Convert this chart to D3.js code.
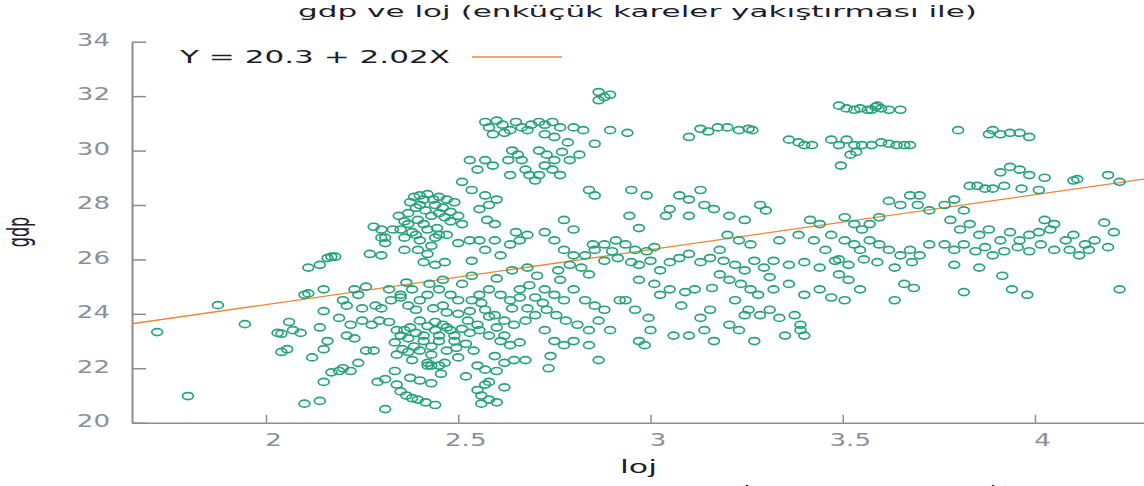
<!DOCTYPE html>
<html>
<head>
<meta charset="utf-8">
<script src="https://cdn.jsdelivr.net/npm/d3@7"></script>
<style>
  html, body { margin: 0; padding: 0; background: #fff; }
  svg { display: block; font-family: "DejaVu Sans", Verdana, sans-serif; }
</style>
</head>
<body>
<svg id="chart"></svg>
<script>
const titleText = "gdp ve loj (enküçük kareler yakıştırması ile)";
const xLabel = "loj";
const yLabel = "gdp";
const xTicks = [2, 2.5, 3, 3.5, 4];
const yTicks = [20, 22, 24, 26, 28, 30, 32, 34];
const fitIntercept = 20.3;
const fitSlope = 2.02;

// [loj, gdp]
const points = [
  [1.717,23.33],[1.797,20.98],[1.875,24.32],[1.945,23.62],[2.03,23.3],[2.04,23.27],[2.04,22.6],[2.055,22.7],
  [2.06,23.7],[2.07,23.4],[2.10,20.7],[2.14,20.8],[2.10,24.7],[2.11,24.75],[2.11,25.7],[2.14,25.8],
  [2.16,26.05],[2.17,26.1],[2.18,26.1],[2.15,24.9],[2.15,24.1],[2.14,23.5],[2.16,23.0],[2.15,22.7],
  [2.17,21.85],[2.15,21.5],[2.19,21.9],[2.22,21.9],[2.19,23.85],[2.2,24.5],[2.23,24.9],[2.24,24.7],
  [2.22,23.6],[2.23,23.1],[2.31,20.5],[2.27,26.2],[2.25,23.75],[2.26,22.65],[2.28,22.65],[2.285,24.3],
  [2.30,24.2],[2.32,24.9],[2.35,24.6],[2.29,21.5],[2.31,21.6],[2.335,21.9],[2.28,27.2],[2.30,26.8],
  [2.31,26.6],[2.09,23.3],[2.12,22.4],[2.2,22.0],[2.21,23.2],[2.24,22.2],[2.26,25.0],[2.25,24.2],[2.21,24.3],
  // 2.3 - 2.4
  [2.30,26.15],[2.30,27.1],[2.31,26.8],[2.33,27.1],[2.345,27.6],[2.36,27.4],[2.35,27.1],[2.37,27.7],
  [2.375,28.1],[2.385,28.3],[2.36,26.35],[2.32,23.7],[2.34,23.4],[2.35,23.2],[2.36,23.4],[2.375,23.5],
  [2.335,22.95],[2.355,22.7],[2.37,22.6],[2.385,22.8],[2.34,22.5],[2.295,23.75],[2.275,23.6],[2.325,24.5],
  [2.35,24.7],[2.38,24.9],[2.365,25.15],[2.37,24.3],[2.39,24.15],[2.34,21.4],[2.35,21.15],[2.365,21.0],
  [2.38,20.9],[2.395,20.85],[2.415,20.75],[2.44,20.65],[2.375,21.65],[2.42,22.1],[2.43,22.1],[2.45,22.1],
  [2.465,22.2],
  // 2.4 - 2.53
  [2.40,28.35],[2.42,28.4],[2.435,28.2],[2.45,28.3],[2.47,28.2],[2.49,28.1],[2.40,28.0],[2.415,27.8],
  [2.43,27.6],[2.45,27.7],[2.465,27.55],[2.48,27.75],[2.50,27.6],[2.395,27.45],[2.41,27.3],[2.445,27.15],
  [2.38,27.0],[2.40,26.7],[2.43,26.5],[2.45,26.9],[2.395,26.35],[2.42,26.2],[2.51,27.3],[2.53,26.7],
  [2.40,23.75],[2.42,23.55],[2.44,23.4],[2.46,23.6],[2.48,23.4],[2.41,23.2],[2.45,23.0],[2.49,23.2],
  [2.51,23.45],[2.525,23.75],[2.47,24.05],[2.435,24.2],[2.40,24.5],[2.42,24.7],[2.45,24.9],[2.48,24.7],
  [2.50,24.5],[2.46,25.25],[2.425,25.1],[2.51,25.1],[2.40,22.65],[2.43,22.5],[2.47,22.65],[2.495,22.75],
  [2.455,21.8],[2.40,21.55],[2.43,21.45],[2.44,25.8],[2.465,25.9],[2.41,25.9],
  [2.39,27.9],[2.41,28.2],[2.44,28.0],[2.46,27.9],[2.48,27.4],[2.42,27.1],[2.44,26.8],[2.39,26.9],
  [2.37,27.3],[2.36,26.8],[2.47,26.9],[2.50,26.6],
  [2.37,23.1],[2.39,23.3],[2.41,23.0],[2.43,22.8],[2.45,23.2],[2.47,23.5],[2.49,23.0],[2.52,22.9],
  [2.53,23.3],[2.55,23.6],[2.44,23.7],[2.46,24.3],[2.50,24.0],[2.53,24.1],[2.56,24.4],[2.58,23.9],
  [2.60,23.5],[2.62,23.2],[2.64,24.2],[2.66,24.6],[2.68,24.2],[2.70,24.6],[2.72,24.4],[2.38,22.3],
  [2.42,22.2],[2.50,22.4],[2.55,22.1],[2.60,21.9],[2.52,21.7],[2.62,21.3],[2.58,21.5],
  // 2.53 - 2.71
  [2.57,31.05],[2.58,30.85],[2.60,31.1],[2.615,30.95],[2.635,30.75],[2.65,31.05],[2.665,30.85],[2.68,30.75],
  [2.59,30.6],[2.62,30.65],[2.69,30.95],[2.71,31.05],[2.64,30.0],[2.655,29.85],[2.63,29.65],[2.665,29.65],
  [2.57,29.65],[2.59,29.45],[2.55,29.3],[2.53,29.65],[2.51,28.85],[2.535,28.55],[2.57,28.35],[2.58,28.0],
  [2.60,28.2],[2.555,27.85],[2.575,27.45],[2.595,27.3],[2.635,29.1],[2.675,29.3],[2.685,29.1],
  [2.555,26.7],[2.595,26.7],[2.57,26.35],[2.61,26.15],[2.635,26.55],[2.66,26.7],[2.65,27.0],[2.68,26.9],
  [2.535,25.95],[2.535,24.5],[2.555,24.7],[2.58,24.9],[2.61,24.7],[2.635,24.5],[2.66,24.9],[2.685,25.05],
  [2.57,24.15],[2.595,23.95],[2.62,23.75],[2.645,23.6],[2.675,23.75],[2.70,23.95],[2.555,23.4],[2.58,23.2],
  [2.61,23.0],[2.635,22.85],[2.66,22.95],[2.54,22.65],[2.595,22.45],[2.62,22.2],[2.645,22.3],[2.57,21.95],
  [2.675,22.3],[2.55,21.2],[2.56,21.0],[2.58,20.85],[2.60,20.75],[2.56,20.7],[2.57,21.4],
  [2.535,25.4],[2.60,25.3],[2.64,25.6],[2.68,25.7],[2.705,25.4],
  // 2.71 - 2.92
  [2.725,30.95],[2.745,31.05],[2.765,30.85],[2.725,30.6],[2.75,30.5],[2.785,30.3],[2.80,30.85],[2.825,30.75],
  [2.865,32.15],[2.88,31.97],[2.895,32.05],[2.865,31.85],[2.895,30.75],[2.94,30.65],
  [2.71,30.0],[2.73,29.85],[2.75,29.65],[2.77,29.95],[2.79,29.65],[2.815,29.85],[2.725,29.45],[2.745,29.3],
  [2.765,29.1],[2.71,29.1],[2.70,28.9],[2.855,30.25],[2.84,28.55],[2.855,28.35],
  [2.725,27.0],[2.75,26.7],[2.775,26.35],[2.80,26.15],[2.83,26.15],[2.855,26.35],[2.88,26.55],[2.91,26.7],
  [2.76,25.6],[2.79,25.8],[2.82,25.7],[2.84,25.45],[2.88,25.95],[2.90,26.3],[2.915,26.05],[2.80,27.1],
  [2.775,27.45],[2.85,26.55],
  [2.725,24.9],[2.75,24.7],[2.775,24.5],[2.80,24.9],[2.83,24.5],[2.855,24.3],[2.88,24.15],[2.73,24.15],
  [2.755,23.95],[2.78,23.75],[2.81,23.6],[2.84,23.4],[2.865,23.75],[2.725,23.4],[2.75,23.0],[2.775,22.85],
  [2.80,23.0],[2.84,22.85],[2.74,22.45],[2.735,22.0],[2.865,22.3],[2.895,23.4],[2.92,24.5],[2.765,25.25],
  // 2.92 - 3.18
  [3.10,30.5],[3.13,30.8],[3.15,30.7],[3.175,30.85],
  [2.95,28.55],[2.99,28.35],[3.05,27.85],[3.075,28.35],[3.13,28.55],[3.10,28.2],[3.14,28.0],[3.165,27.85],
  [3.04,27.6],[3.10,27.6],[2.945,27.6],[2.97,27.15],
  [2.935,26.55],[2.96,26.35],[2.99,26.3],[3.01,26.45],[2.95,25.9],[2.97,25.8],[3.0,25.95],[3.025,25.6],
  [3.05,25.9],[3.075,26.05],[3.10,26.2],[3.13,25.9],[3.155,26.05],[3.18,26.35],[2.97,25.25],[3.01,25.1],
  [3.05,24.9],[3.09,24.8],[3.115,24.9],[3.16,24.95],[3.18,25.45],
  [2.935,24.5],[2.96,24.15],[2.995,23.85],[3.0,23.4],[3.025,24.7],[2.97,23.0],[2.985,22.85],[3.06,23.2],
  [3.10,23.2],[3.14,23.4],[3.165,23.0],[3.13,23.85],[3.155,24.15],[3.08,24.3],
  // 3.18 - 3.49
  [3.20,30.85],[3.23,30.75],[3.255,30.8],[3.265,30.75],[3.36,30.4],[3.385,30.3],[3.40,30.2],[3.42,30.2],
  [3.285,28.0],[3.30,27.8],[3.205,27.6],[3.245,27.45],[3.20,26.9],[3.23,26.7],[3.26,26.55],[3.335,26.7],
  [3.385,26.9],[3.415,27.45],[3.44,27.3],[3.47,26.9],[3.425,26.7],[3.455,26.35],
  [3.19,25.95],[3.22,25.8],[3.245,25.6],[3.27,25.95],[3.295,25.7],[3.32,25.95],[3.36,25.8],[3.40,25.9],
  [3.44,25.7],[3.48,25.95],[3.205,25.25],[3.235,25.1],[3.26,24.9],[3.28,24.7],[3.32,24.9],[3.36,25.1],
  [3.40,24.7],[3.44,24.9],[3.47,24.6],[3.31,25.35],
  [3.22,24.5],[3.255,24.15],[3.285,23.95],[3.31,24.15],[3.335,23.85],[3.375,23.95],[3.39,23.6],[3.205,23.6],
  [3.23,23.4],[3.27,23.0],[3.35,23.2],[3.39,23.4],[3.40,23.2],[3.245,23.95],
  // 3.49 - 3.75
  [3.49,31.65],[3.51,31.55],[3.53,31.5],[3.545,31.55],[3.565,31.5],[3.585,31.6],[3.60,31.55],[3.62,31.5],
  [3.65,31.5],[3.575,31.5],[3.59,31.65],
  [3.49,30.2],[3.51,30.4],[3.53,30.2],[3.52,29.85],[3.535,29.95],[3.55,30.2],[3.575,30.2],[3.60,30.3],
  [3.62,30.25],[3.64,30.2],[3.66,30.2],[3.675,30.2],[3.495,29.45],[3.47,30.4],
  [3.505,27.55],[3.53,27.3],[3.55,27.1],[3.57,27.3],[3.595,27.55],[3.62,28.15],[3.65,28.0],[3.675,28.35],
  [3.70,28.35],[3.725,27.8],[3.695,28.0],
  [3.505,26.7],[3.53,26.55],[3.545,26.35],[3.57,26.7],[3.595,26.55],[3.62,26.35],[3.65,26.15],[3.675,26.35],
  [3.70,26.15],[3.725,26.55],[3.49,26.0],[3.515,25.8],[3.555,26.0],[3.59,25.9],[3.635,25.7],[3.68,25.9],
  [3.49,25.45],[3.515,25.25],[3.66,25.1],[3.685,24.95],[3.635,24.5],[3.545,24.9],[3.505,24.5],
  // 3.75 - 4.06
  [3.80,30.75],[3.88,30.6],[3.89,30.75],[3.91,30.6],[3.935,30.65],[3.96,30.65],[3.985,30.5],
  [3.765,28.0],[3.79,28.2],[3.815,27.8],[3.83,28.7],[3.85,28.7],[3.87,28.6],[3.89,28.6],[3.91,29.2],
  [3.935,29.4],[3.96,29.3],[3.985,29.1],[4.025,29.0],[3.92,28.7],[3.965,28.6],[4.01,28.55],
  [3.78,27.45],[3.805,27.1],[3.83,27.3],[3.855,26.9],[3.88,27.1],[3.91,26.7],[3.935,27.0],[3.96,26.7],
  [3.985,26.9],[4.01,27.0],[4.04,27.1],[4.025,27.45],[4.05,27.3],
  [3.765,26.55],[3.79,26.35],[3.815,26.55],[3.845,26.3],[3.87,26.45],[3.89,26.15],[3.92,26.3],[3.955,26.45],
  [3.985,26.3],[4.015,26.55],[4.05,26.35],
  [3.79,25.8],[3.815,24.8],[3.94,24.9],[3.98,24.7],[3.915,25.4],[3.855,25.7],
  // 4.06 +
  [4.10,28.9],[4.11,28.95],[4.19,29.1],[4.22,28.85],
  [4.08,26.7],[4.10,26.9],[4.13,26.55],[4.155,26.7],[4.18,27.35],[4.205,27.0],[4.09,26.35],[4.115,26.15],
  [4.14,26.35],[4.19,26.45],[4.22,24.9]
];

const W = 1144, H = 486;
const axisColor = "#8c8c8c";
const labelColor = "#8a8f99";
const pointColor = "#25a277";
const lineColor = "#e8873a";

const svg = d3.select("#chart")
  .attr("width", W)
  .attr("height", H);

// x: 2 at 266, 4 at 1035 -> extend to plot edges
const x = d3.scaleLinear().domain([2, 4]).range([266, 1035]);
x.domain([x.invert(132), x.invert(W)]).range([132, W]);

const y = d3.scaleLinear().domain([20, 34]).range([422.7, 41.7]);

const stretch = 1.45;

// y axis
const yAxis = svg.append("g")
  .attr("transform", "translate(132,0)")
  .call(d3.axisLeft(y).tickValues(yTicks).tickSizeInner(-14).tickSizeOuter(0).tickPadding(22));
yAxis.select(".domain").attr("stroke", axisColor).attr("stroke-width", 2);
yAxis.selectAll(".tick line").attr("stroke", axisColor).attr("stroke-width", 1.5);
yAxis.selectAll(".tick text")
  .attr("fill", labelColor)
  .attr("font-size", 18)
  .attr("font-family", "DejaVu Sans")
  .attr("x", 0)
  .attr("transform", `translate(-22,-2) scale(${stretch},1)`);

// x axis
const xAxis = svg.append("g")
  .attr("transform", `translate(0,${y(20)})`)
  .call(d3.axisBottom(x).tickValues(xTicks).tickFormat(d3.format("")).tickSizeInner(-8).tickSizeOuter(0).tickPadding(11));
xAxis.select(".domain").attr("stroke", axisColor).attr("stroke-width", 1.5);
xAxis.selectAll(".tick line").attr("stroke", axisColor).attr("stroke-width", 1.5);
xAxis.selectAll(".tick text")
  .attr("fill", labelColor)
  .attr("font-size", 18)
  .attr("font-family", "DejaVu Sans")
  .attr("transform", `translate(7,0) scale(${stretch},1)`);

// fit line
const xd = x.domain();
svg.append("path")
  .datum(xd)
  .attr("fill", "none")
  .attr("stroke", lineColor)
  .attr("stroke-width", 1.3)
  .attr("d", d3.line().x(d => x(d)).y(d => y(fitIntercept + fitSlope * d)));

// points
svg.append("g")
  .selectAll("ellipse")
  .data(points)
  .enter()
  .append("ellipse")
  .attr("cx", d => x(d[0]))
  .attr("cy", d => y(d[1]))
  .attr("rx", 5.4)
  .attr("ry", 3.5)
  .attr("fill", "none")
  .attr("stroke", pointColor)
  .attr("stroke-width", 1.7);

// title
svg.append("text")
  .attr("x", 298)
  .attr("y", 17)
  .attr("font-size", 16.5)
  .attr("fill", "#1c1c2a")
  .attr("textLength", 679)
  .attr("lengthAdjust", "spacingAndGlyphs")
  .text(titleText);

// legend
svg.append("text")
  .attr("x", 180)
  .attr("y", 63)
  .attr("font-size", 17)
  .attr("fill", "#1c1c2a")
  .attr("textLength", 270)
  .attr("lengthAdjust", "spacingAndGlyphs")
  .text(`Y = ${fitIntercept} + ${fitSlope}X`);
svg.append("line")
  .attr("x1", 472).attr("x2", 562)
  .attr("y1", 57).attr("y2", 57)
  .attr("stroke", lineColor)
  .attr("stroke-width", 1.5);

// axis labels
svg.append("text")
  .attr("x", 620)
  .attr("y", 473)
  .attr("font-size", 17)
  .attr("fill", "#1c1c2a")
  .attr("textLength", 37)
  .attr("lengthAdjust", "spacingAndGlyphs")
  .text(xLabel);

svg.append("text")
  .attr("transform", "translate(29,232) scale(1.9,1) rotate(-90)")
  .attr("text-anchor", "middle")
  .attr("font-size", 16)
  .attr("fill", "#1c1c2a")
  .text(yLabel);

// cut-off letters below the plot
svg.selectAll(".cut")
  .data([747, 993])
  .enter()
  .append("text")
  .attr("class", "cut")
  .attr("x", d => d)
  .attr("y", 502.5)
  .attr("text-anchor", "middle")
  .attr("font-size", 20)
  .attr("fill", "#000")
  .text("İ");
</script>
</body>
</html>
